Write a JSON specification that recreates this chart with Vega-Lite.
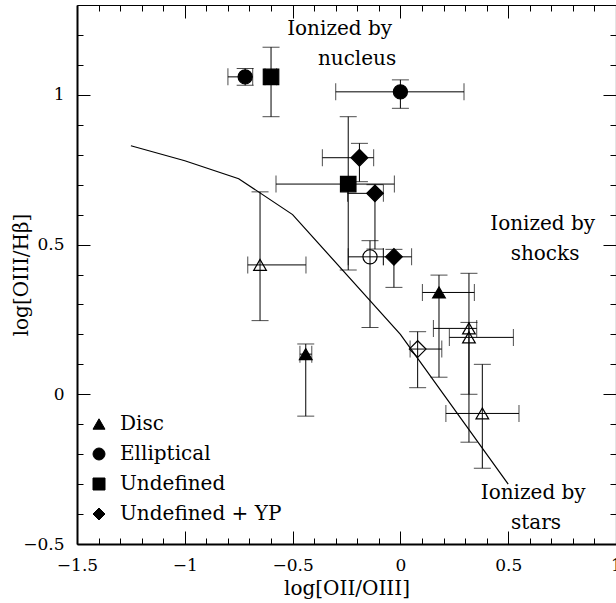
{
  "$schema": "https://vega.github.io/schema/vega-lite/v6.json",
  "width": 539,
  "height": 539,
  "autosize": {"type": "none"},
  "padding": {"left": 77, "top": 5, "right": 0, "bottom": 59},
  "background": "white",
  "config": {
    "view": {"stroke": null},
    "font": "DejaVu Serif",
    "axis": {
      "grid": false,
      "labelFont": "DejaVu Serif",
      "labelFontSize": 17,
      "labelColor": "black",
      "titleFont": "DejaVu Serif",
      "titleFontSize": 20,
      "titleFontWeight": "normal",
      "titleColor": "black",
      "tickColor": "black",
      "domainColor": "black",
      "tickWidth": 1
    }
  },
  "datasets": {
    "pts": [
      {"type": "Elliptical", "marker": "filled", "x": -0.72, "y": 1.06, "xlo": -0.80, "xhi": -0.685, "ylo": 1.032, "yhi": 1.088},
      {"type": "Undefined", "marker": "filled", "x": -0.60, "y": 1.06, "xlo": -0.628, "xhi": -0.574, "ylo": 0.927, "yhi": 1.159},
      {"type": "Elliptical", "marker": "filled", "x": 0.0, "y": 1.01, "xlo": -0.30, "xhi": 0.295, "ylo": 0.955, "yhi": 1.05},
      {"type": "Undefined + YP", "marker": "filled", "x": -0.19, "y": 0.79, "xlo": -0.362, "xhi": -0.124, "ylo": 0.71, "yhi": 0.838},
      {"type": "Undefined", "marker": "filled", "x": -0.242, "y": 0.702, "xlo": -0.577, "xhi": -0.028, "ylo": 0.415, "yhi": 0.927},
      {"type": "Undefined + YP", "marker": "filled", "x": -0.118, "y": 0.671, "xlo": -0.245, "xhi": -0.079, "ylo": 0.485, "yhi": 0.70},
      {"type": "Elliptical", "marker": "open", "x": -0.141, "y": 0.459, "xlo": -0.242, "xhi": -0.079, "ylo": 0.223, "yhi": 0.513},
      {"type": "Undefined + YP", "marker": "filled", "x": -0.03, "y": 0.459, "xlo": -0.079, "xhi": 0.052, "ylo": 0.357, "yhi": 0.484},
      {"type": "Disc", "marker": "open", "x": -0.651, "y": 0.432, "xlo": -0.708, "xhi": -0.438, "ylo": 0.246, "yhi": 0.676},
      {"type": "Disc", "marker": "filled", "x": -0.439, "y": 0.134, "xlo": -0.466, "xhi": -0.411, "ylo": -0.073, "yhi": 0.168},
      {"type": "Disc", "marker": "filled", "x": 0.179, "y": 0.34, "xlo": 0.102, "xhi": 0.343, "ylo": 0.057, "yhi": 0.398},
      {"type": "Undefined + YP", "marker": "open", "x": 0.08, "y": 0.151, "xlo": 0.045, "xhi": 0.192, "ylo": 0.022, "yhi": 0.209},
      {"type": "Disc", "marker": "open", "x": 0.318, "y": 0.22, "xlo": 0.153, "xhi": 0.354, "ylo": 0.0, "yhi": 0.404},
      {"type": "Disc", "marker": "open", "x": 0.318, "y": 0.19, "xlo": 0.227, "xhi": 0.524, "ylo": -0.16, "yhi": 0.24},
      {"type": "Disc", "marker": "open", "x": 0.38, "y": -0.064, "xlo": 0.211, "xhi": 0.55, "ylo": -0.247, "yhi": 0.10}
    ],
    "curve": [
      {"x": -1.25, "y": 0.83},
      {"x": -1.0, "y": 0.78},
      {"x": -0.75, "y": 0.72},
      {"x": -0.5, "y": 0.60},
      {"x": 0.0, "y": 0.20},
      {"x": 0.5, "y": -0.30}
    ],
    "notes": [
      {"label": "Ionized by", "x": -0.282, "y": 1.2},
      {"label": "nucleus", "x": -0.201, "y": 1.1},
      {"label": "Ionized by", "x": 0.66, "y": 0.548},
      {"label": "shocks", "x": 0.671, "y": 0.448},
      {"label": "Ionized by", "x": 0.616, "y": -0.351},
      {"label": "stars", "x": 0.629, "y": -0.451}
    ]
  },
  "resolve": {"axis": {"x": "independent", "y": "independent"}},
  "layer": [
    {
      "data": {"name": "pts"},
      "mark": {"type": "errorbar", "ticks": {"size": 17}, "thickness": 1, "color": "black"},
      "encoding": {
        "x": {"field": "xlo", "type": "quantitative", "scale": {"domain": [-1.5, 1], "nice": false, "zero": false}, "axis": null},
        "x2": {"field": "xhi"},
        "y": {"field": "y", "type": "quantitative", "scale": {"domain": [-0.5, 1.3], "nice": false, "zero": false}, "axis": null}
      }
    },
    {
      "data": {"name": "pts"},
      "mark": {"type": "errorbar", "ticks": {"size": 17}, "thickness": 1, "color": "black"},
      "encoding": {
        "x": {"field": "x", "type": "quantitative", "scale": {"domain": [-1.5, 1], "nice": false, "zero": false}, "axis": null},
        "y": {"field": "ylo", "type": "quantitative", "scale": {"domain": [-0.5, 1.3], "nice": false, "zero": false}, "axis": null},
        "y2": {"field": "yhi"}
      }
    },
    {
      "data": {"name": "curve"},
      "mark": {"type": "line", "color": "black", "strokeWidth": 1.2},
      "encoding": {
        "x": {"field": "x", "type": "quantitative", "scale": {"domain": [-1.5, 1], "nice": false, "zero": false}, "axis": null},
        "y": {"field": "y", "type": "quantitative", "scale": {"domain": [-0.5, 1.3], "nice": false, "zero": false}, "axis": null}
      }
    },
    {
      "data": {"name": "pts"},
      "mark": {"type": "point", "filled": true, "stroke": "black", "strokeWidth": 1.2, "opacity": 1},
      "encoding": {
        "x": {"field": "x", "type": "quantitative", "scale": {"domain": [-1.5, 1], "nice": false, "zero": false},
          "axis": {"orient": "bottom", "values": [-1.5, -1, -0.5, 0, 0.5, 1], "format": ".1~f", "tickSize": -13, "labelPadding": 26, "domainWidth": 2, "labelFlush": false, "labelOverlap": false, "title": "log[OII/OIII]", "titleY": 50, "titleBaseline": "alphabetic"}},
        "y": {"field": "y", "type": "quantitative", "scale": {"domain": [-0.5, 1.3], "nice": false, "zero": false},
          "axis": {"orient": "left", "values": [-0.5, 0, 0.5, 1], "format": ".1~f", "tickSize": -13, "labelPadding": 26, "domainWidth": 2, "labelFlush": false, "labelOverlap": false, "title": "log[OIII/Hβ]", "titleX": -50, "titleY": 269.5, "titleAngle": 270, "titleBaseline": "alphabetic", "titleAlign": "center"}},
        "shape": {"field": "type", "type": "nominal",
          "scale": {"domain": ["Disc", "Elliptical", "Undefined", "Undefined + YP"], "range": ["triangle-up", "circle", "square", "diamond"]},
          "legend": {"orient": "none", "legendX": 12, "legendY": 409, "title": null, "labelFont": "DejaVu Serif", "labelFontSize": 20, "labelColor": "black", "labelLimit": 0, "symbolSize": 144, "symbolFillColor": "black", "symbolStrokeColor": "black", "symbolStrokeWidth": 1, "labelOffset": 11, "rowPadding": 10, "padding": 0}},
        "fill": {"field": "marker", "type": "nominal", "scale": {"domain": ["filled", "open"], "range": ["black", "rgba(0,0,0,0)"]}, "legend": null},
        "size": {"field": "type", "type": "ordinal", "scale": {"domain": ["Undefined + YP", "Undefined", "Elliptical", "Disc"], "range": [279, 161, 256, 225]}, "legend": null}
      }
    },
    {
      "data": {"name": "notes"},
      "mark": {"type": "text", "font": "DejaVu Serif", "fontSize": 20, "color": "black", "align": "center", "baseline": "alphabetic"},
      "encoding": {
        "x": {"field": "x", "type": "quantitative", "scale": {"domain": [-1.5, 1], "nice": false, "zero": false}, "axis": null},
        "y": {"field": "y", "type": "quantitative", "scale": {"domain": [-0.5, 1.3], "nice": false, "zero": false}, "axis": null},
        "text": {"field": "label"}
      }
    },
    {
      "data": {"name": "pts"},
      "mark": {"type": "point", "opacity": 0},
      "encoding": {
        "x": {"field": "x", "type": "quantitative", "scale": {"domain": [-1.5, 1], "nice": false, "zero": false},
          "axis": {"orient": "bottom", "values": [-1.4, -1.3, -1.2, -1.1, -0.9, -0.8, -0.7, -0.6, -0.4, -0.3, -0.2, -0.1, 0.1, 0.2, 0.3, 0.4, 0.6, 0.7, 0.8, 0.9], "tickSize": -6, "labels": false, "domain": false, "title": null}},
        "y": {"field": "y", "type": "quantitative", "scale": {"domain": [-0.5, 1.3], "nice": false, "zero": false},
          "axis": {"orient": "left", "values": [-0.4, -0.3, -0.2, -0.1, 0.1, 0.2, 0.3, 0.4, 0.6, 0.7, 0.8, 0.9, 1.1, 1.2], "tickSize": -6, "labels": false, "domain": false, "title": null}}
      }
    },
    {
      "data": {"name": "pts"},
      "mark": {"type": "point", "opacity": 0},
      "encoding": {
        "x": {"field": "x", "type": "quantitative", "scale": {"domain": [-1.5, 1], "nice": false, "zero": false},
          "axis": {"orient": "top", "values": [-1.5, -1, -0.5, 0, 0.5, 1], "tickSize": -13, "labels": false, "domain": true, "domainWidth": 1.2, "title": null}},
        "y": {"field": "y", "type": "quantitative", "scale": {"domain": [-0.5, 1.3], "nice": false, "zero": false},
          "axis": {"orient": "right", "values": [-0.5, 0, 0.5, 1], "tickSize": -13, "labels": false, "domain": true, "domainWidth": 1.2, "title": null}}
      }
    },
    {
      "data": {"name": "pts"},
      "mark": {"type": "point", "opacity": 0},
      "encoding": {
        "x": {"field": "x", "type": "quantitative", "scale": {"domain": [-1.5, 1], "nice": false, "zero": false},
          "axis": {"orient": "top", "values": [-1.4, -1.3, -1.2, -1.1, -0.9, -0.8, -0.7, -0.6, -0.4, -0.3, -0.2, -0.1, 0.1, 0.2, 0.3, 0.4, 0.6, 0.7, 0.8, 0.9], "tickSize": -6, "labels": false, "domain": false, "title": null}},
        "y": {"field": "y", "type": "quantitative", "scale": {"domain": [-0.5, 1.3], "nice": false, "zero": false},
          "axis": {"orient": "right", "values": [-0.4, -0.3, -0.2, -0.1, 0.1, 0.2, 0.3, 0.4, 0.6, 0.7, 0.8, 0.9, 1.1, 1.2], "tickSize": -6, "labels": false, "domain": false, "title": null}}
      }
    }
  ]
}
